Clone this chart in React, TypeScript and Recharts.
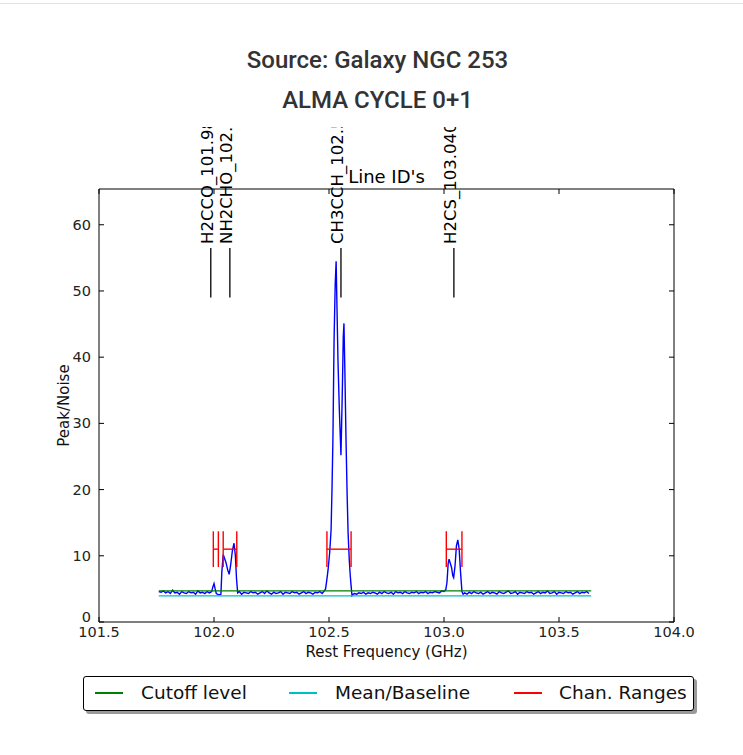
import React from "react";
import { LineChart, Line, XAxis, YAxis, ReferenceLine, ReferenceDot } from "recharts";

// frequency (GHz), peak/noise
const spectrum: [number, number][] = [
  [101.76, 4.6], [101.77, 4.5], [101.78, 4.7], [101.79, 4.4], [101.8, 4.6], [101.81, 4.3],
  [101.82, 4.8], [101.83, 4.4], [101.84, 4.5], [101.85, 4.2], [101.86, 4.6], [101.87, 4.4],
  [101.88, 4.3], [101.89, 4.6], [101.9, 4.4], [101.91, 4.5], [101.92, 4.2], [101.93, 4.7],
  [101.94, 4.4], [101.95, 4.5], [101.96, 4.3], [101.97, 4.6], [101.98, 4.4], [101.99, 4.6],
  [101.995, 5.3], [102.0, 5.8], [102.005, 5.0], [102.01, 4.3], [102.02, 4.1], [102.03, 4.2],
  [102.034, 7.5], [102.04, 10.2], [102.046, 9.6], [102.052, 9.0], [102.06, 7.8], [102.066, 7.2],
  [102.072, 8.5], [102.08, 10.8], [102.087, 11.9], [102.093, 10.0], [102.098, 6.5], [102.103, 4.4],
  [102.11, 4.6], [102.12, 4.2], [102.13, 4.5], [102.14, 4.4], [102.15, 4.3], [102.16, 4.6],
  [102.17, 4.4], [102.18, 4.5], [102.19, 4.2], [102.2, 4.4], [102.21, 4.6], [102.22, 4.3],
  [102.23, 4.7], [102.24, 4.4], [102.25, 4.2], [102.26, 4.5], [102.27, 4.3], [102.28, 4.4],
  [102.29, 4.6], [102.3, 4.2], [102.31, 4.5], [102.32, 4.4], [102.33, 4.3], [102.34, 4.6],
  [102.35, 4.4], [102.36, 4.5], [102.37, 4.2], [102.38, 4.4], [102.39, 4.6], [102.4, 4.3],
  [102.41, 4.5], [102.42, 4.4], [102.43, 4.2], [102.44, 4.5], [102.45, 4.4], [102.46, 4.6],
  [102.47, 4.3], [102.48, 4.7], [102.485, 5.0], [102.49, 6.2], [102.496, 7.9], [102.503, 10.5],
  [102.509, 13.9], [102.513, 20.0], [102.517, 27.5], [102.522, 42.5], [102.527, 51.0], [102.531, 54.5],
  [102.535, 47.0], [102.539, 39.5], [102.545, 32.0], [102.552, 25.2], [102.558, 35.0], [102.562, 43.0],
  [102.565, 45.1], [102.569, 38.0], [102.574, 27.5], [102.579, 19.0], [102.583, 13.5], [102.588, 9.5],
  [102.592, 7.2], [102.596, 5.5], [102.6, 4.0], [102.605, 4.2], [102.61, 4.3], [102.62, 4.2],
  [102.63, 4.4], [102.64, 4.3], [102.65, 4.5], [102.66, 4.2], [102.67, 4.4], [102.68, 4.3],
  [102.69, 4.5], [102.7, 4.4], [102.71, 4.2], [102.72, 4.5], [102.73, 4.3], [102.74, 4.6],
  [102.75, 4.4], [102.76, 4.3], [102.77, 4.5], [102.78, 4.2], [102.79, 4.6], [102.8, 4.4],
  [102.81, 4.5], [102.82, 4.3], [102.83, 4.6], [102.84, 4.4], [102.85, 4.3], [102.86, 4.5],
  [102.87, 4.4], [102.88, 4.6], [102.89, 4.3], [102.9, 4.5], [102.91, 4.4], [102.92, 4.6],
  [102.93, 4.3], [102.94, 4.5], [102.95, 4.4], [102.96, 4.6], [102.97, 4.5], [102.98, 4.4],
  [102.99, 4.7], [103.0, 4.6], [103.008, 4.9], [103.013, 6.0], [103.018, 8.8], [103.022, 9.5],
  [103.028, 8.8], [103.033, 8.2], [103.038, 7.0], [103.042, 6.7], [103.048, 8.5], [103.054, 11.5],
  [103.06, 12.4], [103.066, 11.0], [103.072, 7.5], [103.078, 4.6], [103.083, 4.2], [103.09, 4.4],
  [103.1, 4.2], [103.11, 4.5], [103.12, 4.3], [103.13, 4.6], [103.14, 4.4], [103.15, 4.3],
  [103.16, 4.5], [103.17, 4.2], [103.18, 4.4], [103.19, 4.6], [103.2, 4.3], [103.21, 4.5],
  [103.22, 4.4], [103.23, 4.2], [103.24, 4.6], [103.25, 4.4], [103.26, 4.3], [103.27, 4.5],
  [103.28, 4.7], [103.29, 4.3], [103.3, 4.4], [103.31, 4.6], [103.32, 4.2], [103.33, 4.5],
  [103.34, 4.4], [103.35, 4.3], [103.36, 4.6], [103.37, 4.4], [103.38, 4.5], [103.39, 4.2],
  [103.4, 4.4], [103.41, 4.6], [103.42, 4.3], [103.43, 4.5], [103.44, 4.4], [103.45, 4.7],
  [103.46, 4.3], [103.47, 4.4], [103.48, 4.6], [103.49, 4.2], [103.5, 4.5], [103.51, 4.4],
  [103.52, 4.3], [103.53, 4.6], [103.54, 4.4], [103.55, 4.5], [103.56, 4.2], [103.57, 4.4],
  [103.58, 4.6], [103.59, 4.3], [103.6, 4.5], [103.61, 4.4], [103.62, 4.6], [103.63, 4.3],
];

const spanStart = 101.76;
const spanEnd = 103.64;
const cutoffLevel = 4.7;
const meanBaseline = 3.95;

const chanRanges: [number, number][] = [
  [101.997, 102.019],
  [102.04, 102.099],
  [102.491, 102.596],
  [103.01, 103.078],
];
const chanLevel = 11;
const chanHalf = 2.7;

const lineIds = [
  { name: "H2CCO_101.981", freq: 101.986 },
  { name: "NH2CHO_102.069", freq: 102.069 },
  { name: "CH3CCH_102.552", freq: 102.552 },
  { name: "H2CS_103.040", freq: 103.043 },
];
const lineIdLow = 49;
const lineIdHigh = 56.5;

const xTicks = [101.5, 102.0, 102.5, 103.0, 103.5, 104.0];
const yTicks = [0, 10, 20, 30, 40, 50, 60];

const legendItems = [
  { label: "Cutoff level", color: "#008000" },
  { label: "Mean/Baseline", color: "#00bfbf" },
  { label: "Chan. Ranges", color: "#ff0000" },
];

const FONT = "'DejaVu Sans', sans-serif";

const specData = spectrum.map(([f, v]) => ({ f, v }));
const cutoffData = [{ f: spanStart, v: cutoffLevel }, { f: spanEnd, v: cutoffLevel }];
const baseData = [{ f: spanStart, v: meanBaseline }, { f: spanEnd, v: meanBaseline }];

function LineIdText(props: any) {
  const { cx, cy, name, idx } = props;
  const id = "lid-clip-" + idx;
  return (
    <g>
      <defs>
        <clipPath id={id}>
          <rect x={cx - 30} y={cy - 121} width={60} height={130} />
        </clipPath>
      </defs>
      <g clipPath={`url(#${id})`}>
        <text
          transform={`translate(${cx + 2},${cy - 4}) rotate(-90)`}
          fontFamily={FONT}
          fontSize={16.5}
          fill="#000"
        >
          {name}
        </text>
      </g>
    </g>
  );
}

function TopTitle(props: any) {
  const { viewBox } = props;
  return (
    <text
      x={viewBox.x + viewBox.width / 2}
      y={viewBox.y + viewBox.height - 6}
      textAnchor="middle"
      fontFamily={FONT}
      fontSize={18}
      fill="#000"
    >
      Line ID's
    </text>
  );
}

function BottomTitle(props: any) {
  const { viewBox } = props;
  return (
    <text
      x={viewBox.x + viewBox.width / 2}
      y={viewBox.y + 35}
      textAnchor="middle"
      fontFamily={FONT}
      fontSize={15}
      fill="#111"
    >
      Rest Frequency (GHz)
    </text>
  );
}

function LeftTitle(props: any) {
  const { viewBox } = props;
  const cy = viewBox.y + viewBox.height / 2;
  return (
    <text
      transform={`translate(69,${cy}) rotate(-90)`}
      textAnchor="middle"
      fontFamily={FONT}
      fontSize={15}
      fill="#111"
    >
      Peak/Noise
    </text>
  );
}

function YTick(props: any) {
  const { x, y, payload } = props;
  // matplotlib's bottom label sits a little above the corner
  const lift = payload.value === 0 ? -5 : 0;
  return (
    <text
      x={x}
      y={y + lift}
      textAnchor="end"
      dominantBaseline="central"
      fontFamily={FONT}
      fontSize={14.5}
      fill="#222"
    >
      {payload.value}
    </text>
  );
}

const tickStyle = { fill: "#222", fontSize: 14.5, fontFamily: FONT };

const titleStyle: React.CSSProperties = {
  position: "absolute", left: 6, width: 743, textAlign: "center",
  fontFamily: "Roboto, sans-serif", fontWeight: 500, fontSize: 24, color: "#333", lineHeight: "28px",
};

export default function App() {
  return (
    <div style={{ position: "absolute", left: 0, top: 0, width: 743, height: 755, background: "#fff" }}>
      <div style={{ position: "absolute", left: 0, top: 3, width: 743, height: 1, background: "#e2e2e2" }} />
      <div style={{ ...titleStyle, top: 46 }}>Source: Galaxy NGC 253</div>
      <div style={{ ...titleStyle, top: 86 }}>ALMA CYCLE 0+1</div>

      <div style={{ position: "absolute", left: 0, top: 0 }}>
        <LineChart width={743} height={755} margin={{ top: 159, right: 59, bottom: 88, left: 39 }}>
          <XAxis
            type="number"
            dataKey="f"
            domain={[101.5, 104]}
            allowDataOverflow
            ticks={xTicks}
            interval={0}
            tickFormatter={(v: number) => v.toFixed(1)}
            tickSize={-5}
            tickMargin={10}
            height={45}
            stroke="#000"
            tick={tickStyle}
            label={<BottomTitle />}
          />
          <XAxis
            xAxisId="top"
            orientation="top"
            type="number"
            dataKey="f"
            domain={[101.5, 104]}
            allowDataOverflow
            ticks={xTicks}
            interval={0}
            tickFormatter={() => ""}
            tickSize={-5}
            height={30}
            stroke="#000"
            label={<TopTitle />}
          />
          <YAxis
            type="number"
            domain={[0, 65.4]}
            allowDataOverflow
            ticks={yTicks}
            interval={0}
            tickSize={-5}
            tickMargin={13}
            width={60}
            stroke="#000"
            tick={<YTick />}
            label={<LeftTitle />}
          />
          <YAxis
            yAxisId="right"
            orientation="right"
            type="number"
            domain={[0, 65.4]}
            allowDataOverflow
            ticks={yTicks}
            interval={0}
            tickFormatter={() => ""}
            tickSize={-5}
            width={10}
            stroke="#000"
          />

          <Line
            data={specData}
            dataKey="v"
            type="linear"
            stroke="#0000ff"
            strokeWidth={1.4}
            dot={false}
            isAnimationActive={false}
          />
          <Line
            data={cutoffData}
            dataKey="v"
            stroke="#008000"
            strokeWidth={1.3}
            dot={false}
            isAnimationActive={false}
          />
          <Line
            data={baseData}
            dataKey="v"
            stroke="#00bfbf"
            strokeWidth={1.3}
            dot={false}
            isAnimationActive={false}
          />

          {chanRanges.map(([a, b], i) => (
            <ReferenceLine
              key={"h" + i}
              segment={[{ x: a, y: chanLevel }, { x: b, y: chanLevel }]}
              stroke="#ff0000"
              strokeWidth={1.4}
            />
          ))}
          {chanRanges.map(([a, b], i) => (
            <ReferenceLine
              key={"a" + i}
              segment={[{ x: a, y: chanLevel - chanHalf }, { x: a, y: chanLevel + chanHalf }]}
              stroke="#ff0000"
              strokeWidth={1.4}
            />
          ))}
          {chanRanges.map(([a, b], i) => (
            <ReferenceLine
              key={"b" + i}
              segment={[{ x: b, y: chanLevel - chanHalf }, { x: b, y: chanLevel + chanHalf }]}
              stroke="#ff0000"
              strokeWidth={1.4}
            />
          ))}

          {lineIds.map((l, i) => (
            <ReferenceLine
              key={"l" + i}
              segment={[{ x: l.freq, y: lineIdLow }, { x: l.freq, y: lineIdHigh }]}
              stroke="#000"
              strokeWidth={1.3}
            />
          ))}
          {lineIds.map((l, i) => (
            <ReferenceDot
              key={"t" + i}
              x={l.freq}
              y={lineIdHigh}
              shape={(p: any) => <LineIdText {...p} name={l.name} idx={i} />}
            />
          ))}
        </LineChart>
      </div>

      <div
        style={{
          position: "absolute", left: 83, top: 676, width: 609, height: 33,
          border: "1px solid #000", borderRadius: 3, background: "#fff",
          boxShadow: "3px 3px 0 #9a9a9a", fontFamily: FONT, fontSize: 18.5, color: "#111",
        }}
      >
        {legendItems.map((it, i) => {
          const lineX = [11, 205, 430][i];
          const textX = [57, 251, 475][i];
          return (
            <React.Fragment key={it.label}>
              <div style={{ position: "absolute", left: lineX, top: 15, width: 28, height: 1.5, background: it.color }} />
              <div style={{ position: "absolute", left: textX, top: 5, whiteSpace: "nowrap", lineHeight: "22px" }}>
                {it.label}
              </div>
            </React.Fragment>
          );
        })}
      </div>
    </div>
  );
}
